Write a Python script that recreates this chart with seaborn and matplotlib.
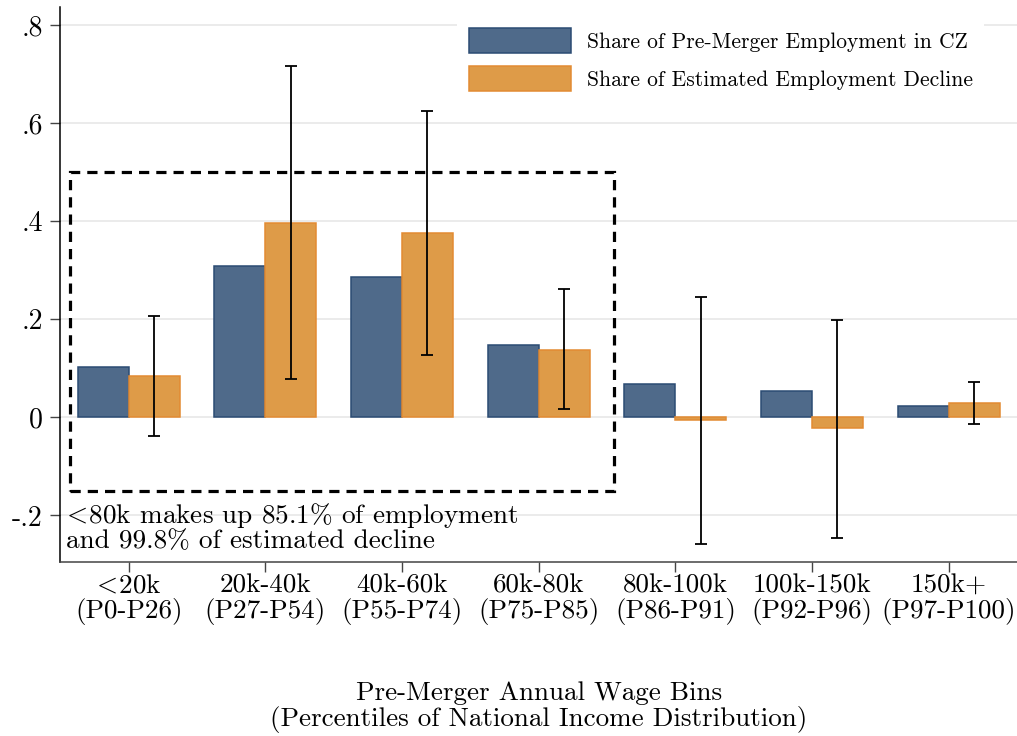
import pandas as pd
import seaborn as sns
import matplotlib.pyplot as plt
from matplotlib.patches import Rectangle

# data
LT = r"$\!<\!$"
bins = [LT + "20k\n(P0-P26)", "20k-40k\n(P27-P54)", "40k-60k\n(P55-P74)", "60k-80k\n(P75-P85)",
        "80k-100k\n(P86-P91)", "100k-150k\n(P92-P96)", "150k+\n(P97-P100)"]
emp_share = [0.103, 0.309, 0.287, 0.148, 0.067, 0.054, 0.024]
decline_share = [0.084, 0.397, 0.375, 0.138, -0.006, -0.022, 0.029]
decline_lo = [-0.038, 0.078, 0.127, 0.017, -0.259, -0.246, -0.013]
decline_hi = [0.207, 0.717, 0.625, 0.262, 0.246, 0.199, 0.073]
series = ["Share of Pre-Merger Employment in CZ", "Share of Estimated Employment Decline"]
yticks = [-0.2, 0, 0.2, 0.4, 0.6, 0.8]
ytick_labels = ["-.2", "0", ".2", ".4", ".6", ".8"]

df = pd.DataFrame({
    "bin": bins * 2,
    "share": emp_share + decline_share,
    "series": [series[0]] * len(bins) + [series[1]] * len(bins),
})

sns.set_style("white")
plt.rcParams["font.family"] = ["cmr10", "DejaVu Serif"]
plt.rcParams["mathtext.fontset"] = "cm"
plt.rcParams["axes.unicode_minus"] = False
plt.rcParams["text.color"] = "black"
plt.rcParams["axes.labelcolor"] = "black"
plt.rcParams["xtick.color"] = "black"
plt.rcParams["ytick.color"] = "black"

face = {series[0]: "#4f6a8a", series[1]: "#de9b48"}
edge = {series[0]: "#2b4b73", series[1]: "#e38b33"}

fig = plt.figure(figsize=(10.17, 7.36), dpi=100)
ax = fig.add_axes([0.0593, 0.2368, 0.9407, 0.7532])

sns.barplot(data=df, x="bin", y="share", hue="series", palette=face, width=0.746,
            errorbar=None, legend=False, linewidth=1.1, saturation=1, ax=ax)

for cont, s in zip(ax.containers, series):
    for p in cont.patches:
        p.set_edgecolor(edge[s])

# CI on the decline bars
xs = [p.get_x() + p.get_width() / 2 for p in ax.containers[1].patches]
err = [[d - lo for d, lo in zip(decline_share, decline_lo)],
       [hi - d for d, hi in zip(decline_share, decline_hi)]]
ax.errorbar(xs, decline_share, yerr=err, fmt="none", ecolor="black",
            elinewidth=1.3, capsize=4.6, capthick=1.3, zorder=5)

# dashed box around <80k bins
ax.add_patch(Rectangle((-0.427, -0.15), 3.979, 0.65, fill=False, edgecolor="black",
                       linewidth=2.3, linestyle=(0, (3.2, 2.2)), zorder=6))
ax.text(-0.46, -0.17, LT + "80k makes up 85.1% of employment\nand 99.8% of estimated decline",
        fontsize=19.6, va="top", ha="left", linespacing=1.0)

ax.set_ylim(-0.2945, 0.836)
ax.set_xlim(-0.5, 6.5)
ax.set_yticks(yticks)
ax.set_yticklabels(ytick_labels)
ax.yaxis.grid(True, color="#e8e8e8", linewidth=1.2)
ax.set_axisbelow(True)
ax.tick_params(axis="both", which="both", length=7.5, width=1, color="#444444",
               labelsize=19.5, left=True, bottom=True)
ax.tick_params(axis="y", pad=5, labelsize=20)
ax.tick_params(axis="x", pad=1)
for lab in ax.get_xticklabels():
    lab.set_linespacing(1.02)

sns.despine(ax=ax, top=True, right=True)
ax.spines["left"].set_color("black")
ax.spines["bottom"].set_color("#444444")
ax.spines["left"].set_linewidth(1.1)
ax.spines["bottom"].set_linewidth(1.1)

ax.set_ylabel("")
ax.set_xlabel("Pre-Merger Annual Wage Bins\n(Percentiles of National Income Distribution)",
              fontsize=19.5, labelpad=41, linespacing=1.03)

leg = ax.legend(ax.containers, series, loc="upper left",
                bbox_to_anchor=(457 / 1017, 1 - 16 / 736),
                bbox_transform=fig.transFigure, frameon=True, fontsize=15.5, borderpad=0.55,
                borderaxespad=0, handlelength=4.75, handleheight=1.43, handletextpad=0.72,
                labelspacing=0.6, fancybox=False)
leg.get_frame().set_facecolor("white")
leg.get_frame().set_edgecolor("none")
leg.get_frame().set_alpha(1)

fig.savefig("out.png", dpi=100)
